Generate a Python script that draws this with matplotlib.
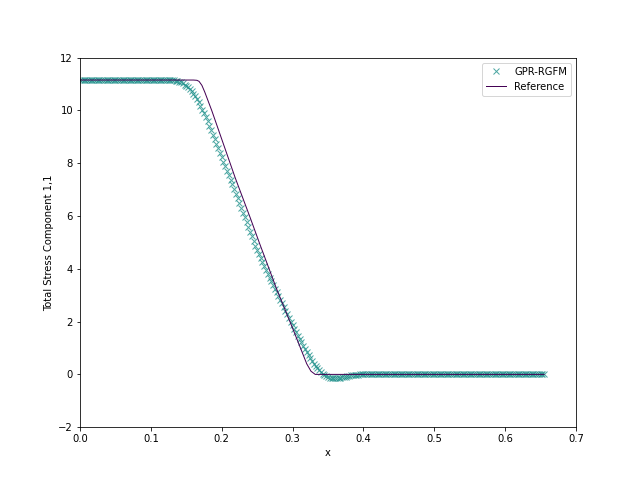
import numpy as np
import matplotlib
matplotlib.use("Agg")
import matplotlib.pyplot as plt

# --- DATA ---
dx = 0.0025            # spacing of the GPR-RGFM sample points
plateau = 11.15        # left state
n_left = 50            # points on the left plateau (x < 0.125)
n_right = 102          # points on the right plateau (x > 0.4)

# GPR-RGFM values across the wave, x = 0.125 ... 0.400
gpr_wave = [
    11.15, 11.15, 11.14, 11.14, 11.13, 11.11, 11.09, 11.06, 11.03, 10.98,
    10.93, 10.87, 10.80, 10.72, 10.63, 10.53, 10.42, 10.30, 10.17, 10.03,
    9.89, 9.74, 9.58, 9.42, 9.25, 9.08, 8.91, 8.74, 8.57, 8.40,
    8.23, 8.06, 7.89, 7.72, 7.55, 7.38, 7.21, 7.03, 6.85, 6.67,
    6.49, 6.31, 6.13, 5.95, 5.77, 5.59, 5.41, 5.23, 5.05, 4.88,
    4.72, 4.57, 4.42, 4.27, 4.12, 3.97, 3.82, 3.67, 3.53, 3.39,
    3.25, 3.11, 2.97, 2.83, 2.69, 2.55, 2.41, 2.27, 2.13, 1.99,
    1.86, 1.73, 1.60, 1.47, 1.34, 1.21, 1.09, 0.97, 0.85, 0.73,
    0.62, 0.51, 0.41, 0.32, 0.23, 0.15, 0.08, 0.02, -0.03, -0.07,
    -0.10, -0.12, -0.13, -0.14, -0.14, -0.14, -0.13, -0.12, -0.11, -0.09,
    -0.08, -0.06, -0.05, -0.04, -0.03, -0.02, -0.01, -0.01, 0.00, 0.00,
    0.00,
]

ref_x = [0.0, 0.160, 0.165, 0.168, 0.172, 0.176, 0.186, 0.219, 0.240,
         0.254, 0.278, 0.299, 0.320, 0.326, 0.332, 0.655]
ref_y = [11.15, 11.15, 11.14, 11.10, 10.95, 10.70, 9.99, 7.45, 5.95,
         4.92, 3.20, 1.82, 0.40, 0.12, 0.0, 0.0]

gpr_y = np.array([plateau] * n_left + gpr_wave + [0.0] * n_right)
gpr_x = dx * np.arange(len(gpr_y))

# --- PLOT ---
fig, ax = plt.subplots(figsize=(640 / 72, 480 / 72), dpi=72)
ax.plot(gpr_x, gpr_y, "x", color="#21918c", markersize=6, alpha=0.8,
        label="GPR-RGFM")
ax.plot(ref_x, ref_y, "-", color="#440154", linewidth=1, label="Reference")
ax.set_xlim(0, 0.7)
ax.set_ylim(-2, 12)
ax.set_xlabel("x")
ax.set_ylabel("Total Stress Component 1,1")
ax.legend(loc="upper right")
fig.savefig("out.png", dpi=72)
